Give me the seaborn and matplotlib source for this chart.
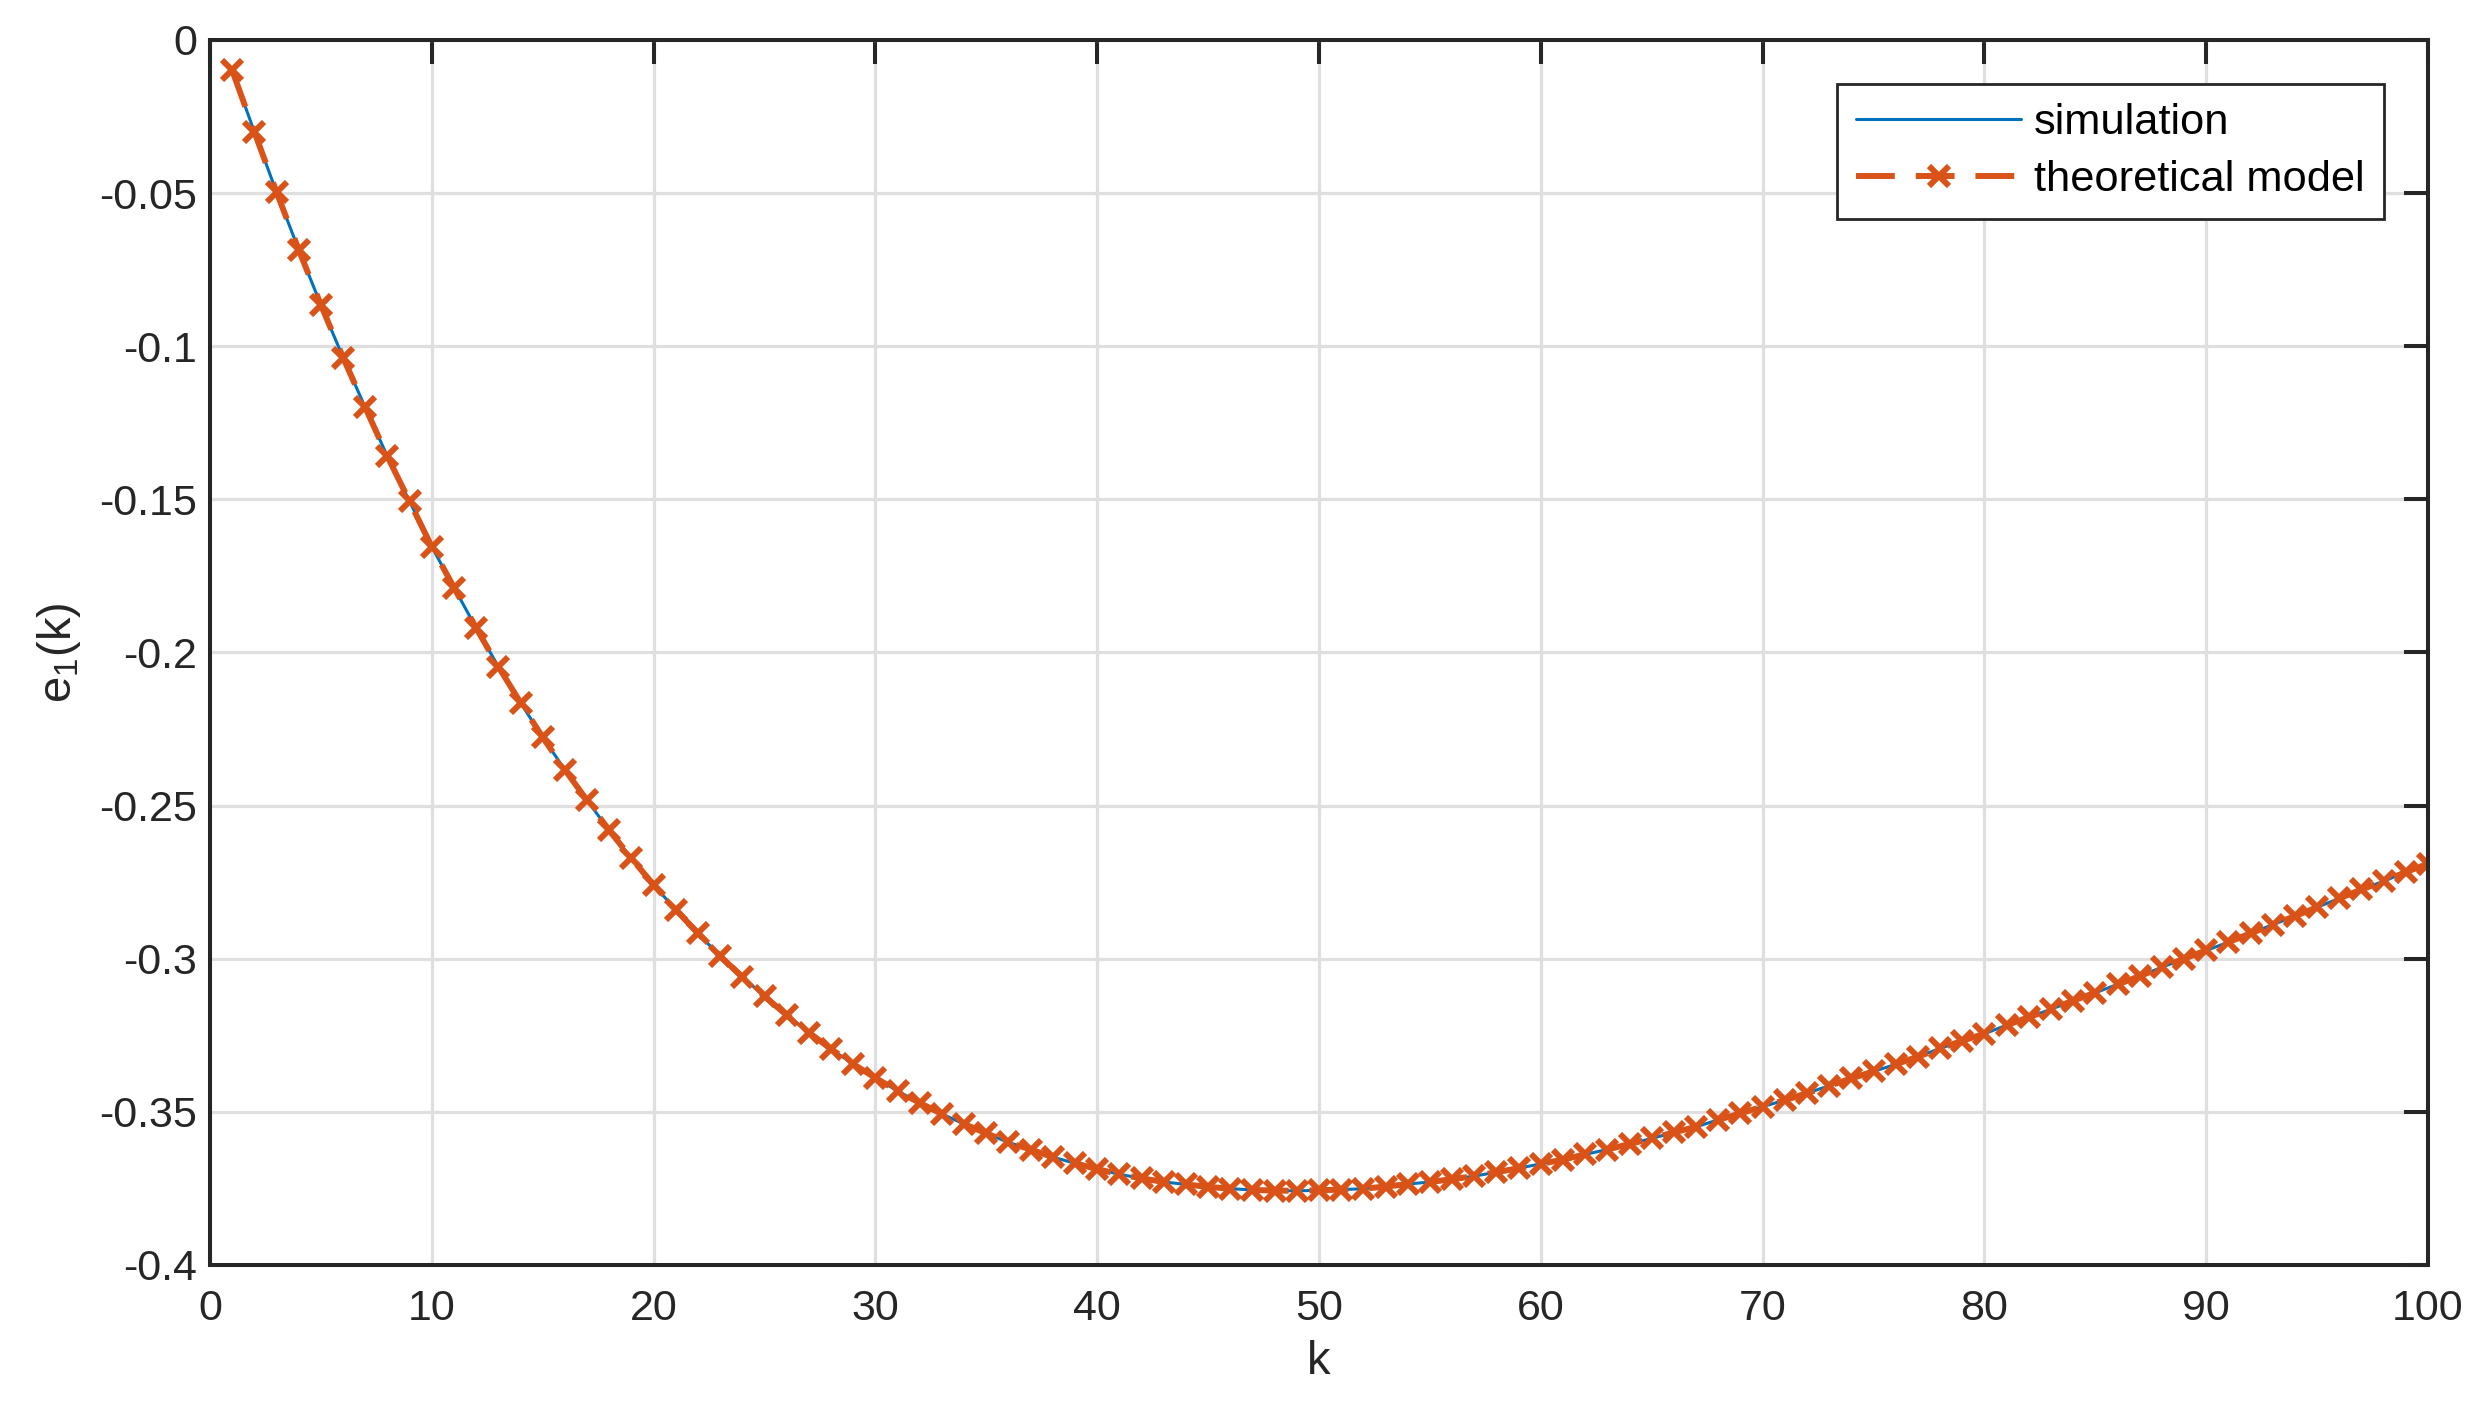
import numpy as np
import pandas as pd
import seaborn as sns
import matplotlib
matplotlib.use("Agg")
import matplotlib.pyplot as plt

# values, k = 1..100
k_steps = list(range(1, 101))

theory_vals = [
    -0.0099, -0.0300, -0.0497, -0.0685, -0.0865, -0.1037, -0.1200, -0.1360, -0.1507, -0.1655,
    -0.1788, -0.1920, -0.2046, -0.2164, -0.2277, -0.2383, -0.2483, -0.2581, -0.2672, -0.2759,
    -0.2840, -0.2917, -0.2992, -0.3059, -0.3123, -0.3184, -0.3241, -0.3295, -0.3344, -0.3389,
    -0.3432, -0.3471, -0.3507, -0.3540, -0.3570, -0.3600, -0.3623, -0.3648, -0.3668, -0.3687,
    -0.3704, -0.3717, -0.3729, -0.3737, -0.3745, -0.3751, -0.3755, -0.3757, -0.3758, -0.3756,
    -0.3754, -0.3751, -0.3744, -0.3736, -0.3729, -0.3720, -0.3710, -0.3697, -0.3684, -0.3670,
    -0.3656, -0.3639, -0.3623, -0.3605, -0.3587, -0.3567, -0.3549, -0.3526, -0.3505, -0.3483,
    -0.3462, -0.3439, -0.3415, -0.3391, -0.3368, -0.3345, -0.3320, -0.3293, -0.3268, -0.3245,
    -0.3217, -0.3191, -0.3165, -0.3137, -0.3111, -0.3084, -0.3057, -0.3028, -0.3000, -0.2973,
    -0.2946, -0.2917, -0.2889, -0.2861, -0.2832, -0.2803, -0.2774, -0.2747, -0.2717, -0.2690,
]
# the simulated curve sits right under the model, no visible difference
sim_vals = list(theory_vals)

x_ticks = [0, 10, 20, 30, 40, 50, 60, 70, 80, 90, 100]
y_ticks = [0, -0.05, -0.1, -0.15, -0.2, -0.25, -0.3, -0.35, -0.4]
y_tick_labels = ["0", "-0.05", "-0.1", "-0.15", "-0.2", "-0.25", "-0.3", "-0.35", "-0.4"]

df = pd.DataFrame({"k": k_steps, "simulation": sim_vals, "theory": theory_vals})

sns.set_theme(style="white")
plt.rcParams["font.family"] = ["Liberation Sans", "DejaVu Sans"]
plt.rcParams["mathtext.default"] = "regular"
plt.rcParams["axes.unicode_minus"] = False

dark = "#262626"
blue = "#0072BD"
orange = "#D95319"

fig = plt.figure(figsize=(24.88, 14.11), dpi=100)
ax = fig.add_axes([0.0844, 0.1035, 0.8915, 0.8682])

n0 = len(ax.get_lines())
sns.lineplot(data=df, x="k", y="simulation", ax=ax, color=blue, legend=False)
sim_line = ax.get_lines()[n0]
n1 = len(ax.get_lines())
sns.lineplot(data=df, x="k", y="theory", ax=ax, color=orange, legend=False)
th_line = ax.get_lines()[n1]

sim_line.set_linewidth(2.2)
sim_line.set_label("simulation")
th_line.set_linewidth(4.3)
th_line.set_linestyle((0, (6.5, 3.5)))
th_line.set_marker("x")
th_line.set_markersize(14)
th_line.set_markeredgewidth(4.3)
th_line.set_markeredgecolor(orange)
th_line.set_label("theoretical model")

ax.set_xlim(0, 100)
ax.set_ylim(-0.4, 0)
ax.set_xticks(x_ticks)
ax.set_yticks(y_ticks)
ax.set_yticklabels(y_tick_labels)

ax.grid(True, color="#dfdfdf", lw=2.3)
ax.set_axisbelow(True)
for sp in ax.spines.values():
    sp.set_color(dark)
    sp.set_linewidth(2.9)
    sp.set_visible(True)

ax.tick_params(axis="both", direction="in", top=True, right=True, length=17,
               width=2.9, color=dark, labelcolor=dark, labelsize=31)
ax.tick_params(axis="x", pad=17)
ax.tick_params(axis="y", pad=9)

ax.set_xlabel("k", fontsize=34, color=dark, labelpad=8)
ax.set_ylabel("e$_1$(k)", fontsize=34, color=dark, labelpad=12)

leg = ax.legend(handles=[sim_line, th_line], loc="upper right",
                bbox_to_anchor=(0.9802, 0.9641), borderaxespad=0, fontsize=31.2,
                handlelength=3.8, handletextpad=0.3, labelspacing=0.38,
                borderpad=0.45, fancybox=False, framealpha=1, edgecolor=dark)
leg.get_frame().set_linewidth(2.0)
for t in leg.get_texts():
    t.set_color("black")

fig.savefig("out.png", dpi=100)
